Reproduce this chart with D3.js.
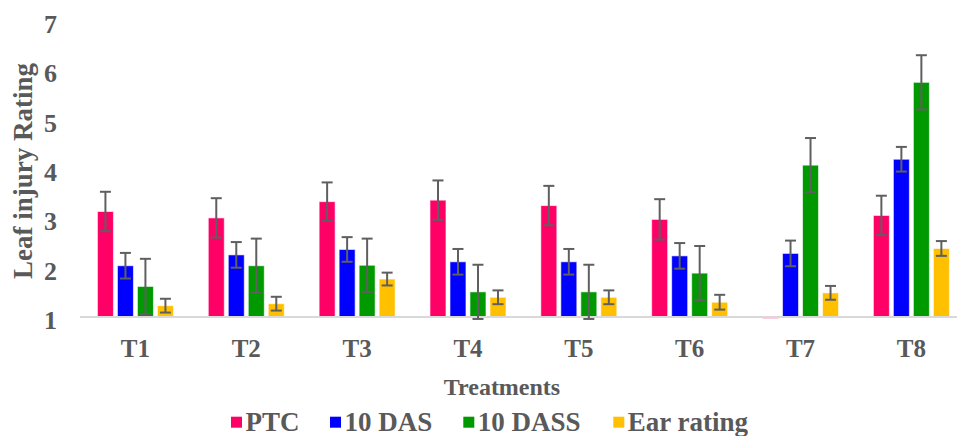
<!DOCTYPE html>
<html><head><meta charset="utf-8">
<script src="https://cdn.jsdelivr.net/npm/d3@7"></script>
<style>body{margin:0;background:#fff}svg{display:block}text{font-family:'Liberation Serif','Times New Roman',serif;font-weight:bold}</style>
</head><body><svg id="c" width="957" height="436"></svg>
<script>
const categories = ["T1","T2","T3","T4","T5","T6","T7","T8"];
const seriesNames = ["PTC","10 DAS","10 DASS","Ear rating"];
const ptc      = [3.14, 3.01, 3.34, 3.37, 3.26, 2.98, 0.97, 3.06];
const das10    = [2.04, 2.26, 2.37, 2.12, 2.12, 2.24, 2.29, 4.20];
const dass10   = [1.62, 2.04, 2.05, 1.51, 1.51, 1.89, 4.08, 5.76];
const earRating= [1.23, 1.27, 1.77, 1.40, 1.40, 1.30, 1.49, 2.39];
const ptcErr   = [0.40, 0.40, 0.39, 0.40, 0.40, 0.41, 0, 0.40];
const das10Err = [0.26, 0.26, 0.25, 0.26, 0.26, 0.26, 0.26, 0.25];
const dass10Err= [0.56, 0.55, 0.54, 0.55, 0.55, 0.55, 0.55, 0.55];
const earErr   = [0.14, 0.14, 0.13, 0.14, 0.14, 0.15, 0.14, 0.15];
const yTicks   = [1,2,3,4,5,6,7];
const colors   = ["#FF0066","#0000FF","#009900","#FFC000"];

const values = [ptc, das10, dass10, earRating];
const errs = [ptcErr, das10Err, dass10Err, earErr];
const data = [];
categories.forEach((c,i)=>seriesNames.forEach((s,j)=>data.push({c, s, j, v: values[j][i], e: errs[j][i]})));

const svg = d3.select("#c");
const font = "'Liberation Serif','Times New Roman',serif";
const textCol = "#595959";
function styleText(sel, size){
  sel.style("font-family", font).style("font-weight","bold").style("font-size", size+"px").attr("fill", textCol);
  return sel;
}

const x0 = d3.scaleBand().domain(categories).range([80, 966.8]).padding(0);
const bw = x0.bandwidth();
const x1 = d3.scaleBand().domain(seriesNames).range([bw/2-40, bw/2+40]).paddingInner(0.2).paddingOuter(0.1);
const y = d3.scaleLinear().domain([1,7]).range([317, 21.2]);
const color = d3.scaleOrdinal().domain(seriesNames).range(colors);

// bars
svg.append("g").selectAll("rect").data(data).join("rect")
  .attr("x", d=>x0(d.c)+x1(d.s))
  .attr("width", x1.bandwidth())
  .attr("y", d=>Math.min(y(d.v), y(1)))
  .attr("height", d=>Math.max(Math.abs(y(d.v)-y(1)), 1.5))
  .attr("fill", d=>color(d.s))
  .attr("stroke", "rgba(255,255,255,0.6)")
  .attr("stroke-width", 1);

// axis line
svg.append("line").attr("x1",80).attr("x2",957).attr("y1",y(1)).attr("y2",y(1))
  .attr("stroke","#d9d9d9").attr("stroke-width",2);

// error bars
const eg = svg.append("g").attr("stroke","#5f5f5f").attr("stroke-width",2).attr("fill","none");
data.filter(d=>d.e>0).forEach(d=>{
  const cx = x0(d.c)+x1(d.s)+x1.bandwidth()/2;
  const yt = y(d.v+d.e), yb = y(d.v-d.e);
  eg.append("line").attr("x1",cx).attr("x2",cx).attr("y1",yt).attr("y2",yb);
  eg.append("line").attr("x1",cx-5.5).attr("x2",cx+5.5).attr("y1",yt).attr("y2",yt);
  eg.append("line").attr("x1",cx-5.5).attr("x2",cx+5.5).attr("y1",yb).attr("y2",yb);
});

// y tick labels
const yAxis = d3.axisLeft(y).tickValues(yTicks).tickSize(0).tickPadding(0).tickFormat(d3.format("d"));
const ya = svg.append("g").attr("transform","translate(57,3)").call(yAxis);
ya.select(".domain").remove();
styleText(ya.selectAll("text"), 26);

// x tick labels
const xAxis = d3.axisBottom(x0).tickSize(0).tickPadding(0);
const xa = svg.append("g").attr("transform","translate(0,356.5)").call(xAxis);
xa.select(".domain").remove();
styleText(xa.selectAll("text"), 25).attr("dy","0");

// axis titles
styleText(svg.append("text").attr("x",502).attr("y",395).attr("text-anchor","middle"), 24).text("Treatments");
styleText(svg.append("text").attr("transform","translate(32,171) rotate(-90)").attr("text-anchor","middle"), 27).text("Leaf injury Rating");

// legend
const legX = [231, 330, 463.3, 613.3];
const lg = svg.append("g");
seriesNames.forEach((s,j)=>{
  lg.append("rect").attr("x",legX[j]).attr("y",416.7).attr("width",11).attr("height",11).attr("fill",color(s));
  styleText(lg.append("text").attr("x",legX[j]+14.5).attr("y",431), 27).text(s);
});
</script></body></html>
